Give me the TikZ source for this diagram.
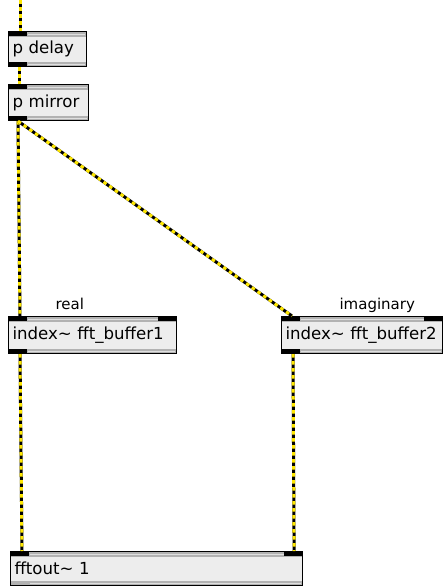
\documentclass[tikz,border=0pt]{standalone}
\usepackage{fontspec}
\setmainfont{DejaVu Sans}
\usetikzlibrary{positioning}

\tikzset{
  obj/.style={draw=black, line width=1.1pt, fill=gray!14, anchor=north west,
    inner xsep=4pt, inner ysep=0pt, align=left,
    font=\fontsize{16.6}{19}\selectfont,
    path picture={
      \fill[gray!60] (path picture bounding box.north west) rectangle ([yshift=-5pt]path picture bounding box.north east);
      \fill[gray!60] (path picture bounding box.south west) rectangle ([yshift=5pt]path picture bounding box.south east);
      \draw[gray!25, line width=0.9pt] ([xshift=19pt,yshift=-2.6pt]path picture bounding box.north west) -- ([xshift=-2pt,yshift=-2.6pt]path picture bounding box.north east);
      \draw[gray!25, line width=0.9pt] ([xshift=19pt,yshift=2.6pt]path picture bounding box.south west) -- ([xshift=-2pt,yshift=2.6pt]path picture bounding box.south east);
    }},
  cable/.style={line width=3pt, yellow!90!orange, dash pattern=on 3.5pt off 3.5pt,
    preaction={draw, black, line width=3pt, solid}},
  tag/.style={anchor=base west, font=\fontsize{15}{17}\selectfont}
}

\begin{document}
\begin{tikzpicture}[x=1pt,y=-1pt]
  \fill[white] (0,0) rectangle (443,587);
  \useasboundingbox (0,0) rectangle (443,587);

  % objects
  \node[obj, minimum width=78pt, minimum height=35pt, text width=70pt] (delay) at (8,31) {\mbox{p delay}};
  \node[obj, minimum width=80pt, minimum height=36pt, text width=72pt] (mirror) at (8,84) {\mbox{p mirror}};
  \node[obj, minimum width=168pt, minimum height=37pt, text width=160pt] (idxa) at (8,316) {\mbox{index\char`~\ fft\_buffer1}};
  \node[obj, minimum width=161pt, minimum height=37pt, text width=153pt] (idxb) at (281,316) {\mbox{index\char`~\ fft\_buffer2}};
  \node[obj, minimum width=292pt, minimum height=34pt, text width=284pt] (out) at (10,551) {\mbox{fftout\char`~\ 1}};

  \node[tag] (re) at (52,309) {real};
  \node[tag] (im) at (336,309) {imaginary};

  % inlets and outlets
  \foreach \n in {delay,mirror,idxa,idxb,out}
    \fill (\n.north west) rectangle ([xshift=19pt,yshift=-5pt]\n.north west);
  \foreach \n in {idxa,idxb,out}
    \fill (\n.north east) rectangle ([xshift=-19pt,yshift=-5pt]\n.north east);
  \foreach \n in {delay,mirror,idxa,idxb}
    \fill (\n.south west) rectangle ([xshift=19pt,yshift=5pt]\n.south west);

  % patch cords
  \coordinate (src) at (20,0);
  \draw[cable] (src) -- ([xshift=12pt]delay.north west);
  \draw[cable] ([xshift=11pt]delay.south west) -- ([xshift=11pt]mirror.north west);
  \draw[cable] ([xshift=10pt]mirror.south west) -- ([xshift=12pt]idxa.north west);
  \draw[cable] ([xshift=10pt]mirror.south west) -- ([xshift=11pt]idxb.north west);
  \draw[cable] ([xshift=12pt]idxa.south west) -- ([xshift=12pt]out.north west);
  \draw[cable] ([xshift=12pt]idxb.south west) -- ([xshift=-9pt]out.north east);
\end{tikzpicture}
\end{document}
